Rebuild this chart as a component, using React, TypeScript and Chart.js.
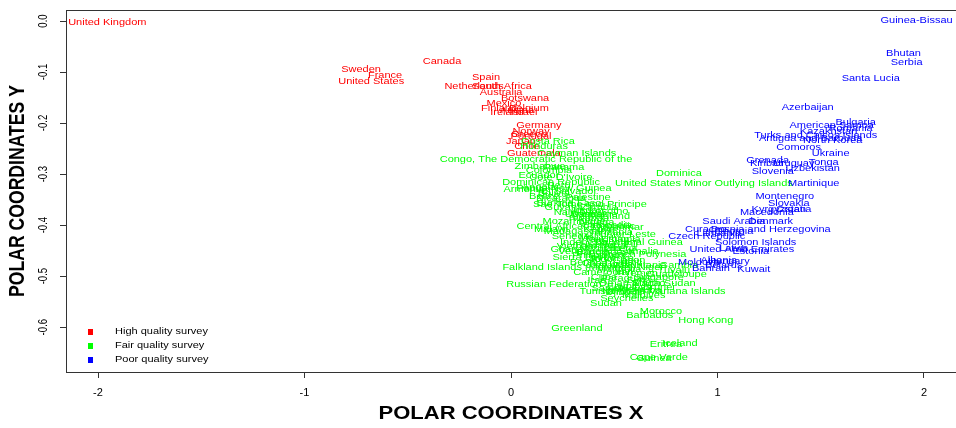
import React, { useEffect, useRef } from "react";
import { Chart, registerables } from "chart.js";
Chart.register(...registerables);

const highNames = ["United Kingdom","Sweden","France","United States","Canada","Spain","Netherlands","South Africa","Australia","Botswana","Mexico","Finland","Belgium","Ireland","Israel","Austria","Germany","Norway","Greece","Portugal","Japan","Chile","Guatemala"];
const highX = [-1.955,-0.726,-0.61,-0.677,-0.334,-0.121,-0.179,-0.044,-0.048,0.068,-0.034,-0.058,0.087,-0.019,0.063,0.029,0.135,0.097,0.087,0.097,0.048,0.077,0.111];
const highY = [-0.004,-0.096,-0.106,-0.118,-0.08,-0.11,-0.129,-0.129,-0.141,-0.153,-0.161,-0.171,-0.171,-0.18,-0.18,-0.175,-0.204,-0.216,-0.222,-0.227,-0.237,-0.247,-0.259];

const fairNames = ["Costa Rica","Honduras","Cayman Islands","Congo, The Democratic Republic of the","Zimbabwe","Panama","Colombia","Ecuador","Cote D'Ivoire","Dominican Republic","Peru","Angola","Armenia","Papua New Guinea","El Salvador","Bolivia","Belize","Nicaragua","Palestine","Sao Tome and Principe","Burkina Faso","Zambia","Guyana","Jordan","Namibia","Uganda","Lesotho","Swaziland","Suriname","Rwanda","Mozambique","Nigeria","Cambodia","Central African Republic","Myanmar","Malawi","Madagascar","Kenya","Tanzania","Timor-Leste","Senegal","Mali","Tajikistan","Ethiopia","Equatorial Guinea","Indonesia","Fiji","Nepal","Thailand","Vietnam","Vanuatu","Liberia","Venezuela","Somalia","Ghana","Bangladesh","French Polynesia","Philippines","Sierra Leone","Sri Lanka","Togo","Gabon","Benin","Haiti","Chad","India","Jamaica","Mauritania","Falkland Islands (Malvinas)","Niger","Mongolia","Gambia","Tuvalu","Cameroon","Iran","Yemen","Cuba","Paraguay","Singapore","Iraq","Syria","Guadeloupe","Russian Federation","Oman","South Sudan","Macao","Egypt","Libya","Brunei","Algeria","Aruba","Tunisia","Northern Mariana Islands","Samoa","Djibouti","Maldives","Seychelles","Sudan","Morocco","Barbados","Hong Kong","Greenland","Eritrea","Iceland","Cape Verde","Guinea","Dominica","United States Minor Outlying Islands"];
const fairX = [0.179,0.16,0.319,0.121,0.14,0.256,0.184,0.135,0.242,0.194,0.232,0.135,0.063,0.256,0.281,0.208,0.16,0.242,0.373,0.382,0.281,0.426,0.256,0.368,0.305,0.353,0.474,0.455,0.402,0.377,0.305,0.416,0.464,0.314,0.532,0.194,0.305,0.426,0.484,0.561,0.295,0.377,0.464,0.532,0.619,0.353,0.581,0.498,0.406,0.319,0.435,0.532,0.353,0.619,0.271,0.455,0.643,0.426,0.353,0.484,0.435,0.571,0.353,0.581,0.406,0.532,0.464,0.629,0.281,0.677,0.523,0.813,0.789,0.426,0.547,0.629,0.45,0.547,0.716,0.416,0.619,0.803,0.208,0.498,0.74,0.668,0.532,0.619,0.716,0.571,0.658,0.416,0.74,0.474,0.547,0.643,0.561,0.46,0.726,0.672,0.943,0.319,0.75,0.818,0.716,0.692,0.813,0.934];
const fairY = [-0.237,-0.247,-0.259,-0.271,-0.286,-0.288,-0.294,-0.302,-0.306,-0.316,-0.322,-0.326,-0.331,-0.329,-0.335,-0.339,-0.345,-0.349,-0.347,-0.359,-0.357,-0.365,-0.365,-0.371,-0.376,-0.38,-0.373,-0.384,-0.38,-0.388,-0.394,-0.396,-0.4,-0.402,-0.404,-0.408,-0.412,-0.408,-0.414,-0.418,-0.422,-0.425,-0.429,-0.429,-0.435,-0.435,-0.439,-0.441,-0.441,-0.443,-0.447,-0.447,-0.451,-0.451,-0.449,-0.453,-0.457,-0.459,-0.463,-0.465,-0.467,-0.469,-0.473,-0.473,-0.475,-0.478,-0.48,-0.48,-0.484,-0.484,-0.488,-0.48,-0.49,-0.494,-0.494,-0.496,-0.502,-0.504,-0.502,-0.508,-0.508,-0.498,-0.516,-0.514,-0.514,-0.514,-0.52,-0.522,-0.522,-0.527,-0.529,-0.531,-0.531,-0.524,-0.533,-0.539,-0.545,-0.553,-0.569,-0.578,-0.588,-0.602,-0.635,-0.633,-0.659,-0.661,-0.3,-0.318];

const poorNames = ["Guinea-Bissau","Bhutan","Serbia","Santa Lucia","Azerbaijan","American Samoa","Bulgaria","Romania","Kazakhstan","Turks and Caicos Islands","Antigua and Barbuda","North Korea","Comoros","Ukraine","Grenada","Kiribati","Uruguay","Tonga","Uzbekistan","Slovenia","Martinique","Montenegro","Slovakia","Kyrgyzstan","Croatia","Macedonia","Saudi Arabia","Denmark","Bosnia and Herzegovina","Curaçao","Georgia","Lithuania","Czech Republic","Solomon Islands","United Arab Emirates","Latvia","Estonia","Moldova","Albania","Hungary","Bahrain","Kuwait","Belarus"];
const poorX = [1.964,1.901,1.916,1.742,1.437,1.553,1.669,1.645,1.538,1.476,1.451,1.558,1.393,1.548,1.243,1.239,1.369,1.514,1.461,1.268,1.466,1.326,1.345,1.297,1.369,1.239,1.079,1.258,1.258,0.943,1.079,1.006,0.948,1.185,1.118,1.079,1.161,0.91,1.006,1.055,0.968,1.176,1.03];
const poorY = [0,-0.063,-0.082,-0.112,-0.169,-0.204,-0.2,-0.21,-0.216,-0.224,-0.231,-0.235,-0.249,-0.259,-0.273,-0.28,-0.28,-0.278,-0.29,-0.296,-0.318,-0.345,-0.357,-0.369,-0.369,-0.376,-0.394,-0.394,-0.408,-0.408,-0.412,-0.416,-0.422,-0.435,-0.449,-0.447,-0.451,-0.473,-0.469,-0.471,-0.486,-0.488,-0.48];

const seriesLabels = ["High quality survey", "Fair quality survey", "Poor quality survey"];
const seriesColors = ["#ff0000", "#00ff00", "#0000ff"];
const xTicks = [-2, -1, 0, 1, 2];
const yTicks = [0, -0.1, -0.2, -0.3, -0.4, -0.5, -0.6];
const xLimits = [-2.155, 2.155];
const yLimits = [-0.688, 0.0216];
const xTitle = "POLAR COORDINATES X";
const yTitle = "POLAR COORDINATES Y";

const FONT = '"Liberation Sans", Arial, sans-serif';
const AXIS_COLOR = "#333333";
const SQUASH = 0.8;

function pts(names: string[], xs: number[], ys: number[]) {
  return names.map((n, i) => ({ x: xs[i], y: ys[i], name: n }));
}

function flatText(ctx: any, text: string, x: number, y: number) {
  ctx.save();
  ctx.translate(x, y);
  ctx.scale(1, SQUASH);
  ctx.fillText(text, 0, 0);
  ctx.restore();
}

function upText(ctx: any, text: string, x: number, y: number) {
  ctx.save();
  ctx.translate(x, y);
  ctx.rotate(-Math.PI / 2);
  ctx.scale(SQUASH, 1);
  ctx.fillText(text, 0, 0);
  ctx.restore();
}

const pointLabelPlugin = {
  id: "pointLabels",
  afterDatasetsDraw(chart: any) {
    const { ctx, chartArea } = chart;
    ctx.save();
    ctx.beginPath();
    ctx.rect(chartArea.left, chartArea.top, chartArea.right - chartArea.left, chartArea.bottom - chartArea.top);
    ctx.clip();
    ctx.font = `11px ${FONT}`;
    ctx.textAlign = "center";
    ctx.textBaseline = "middle";
    chart.data.datasets.forEach((ds: any, i: number) => {
      const meta = chart.getDatasetMeta(i);
      ctx.fillStyle = ds.borderColor;
      meta.data.forEach((el: any, j: number) => {
        flatText(ctx, ds.data[j].name, el.x, el.y);
      });
    });
    ctx.restore();
  },
};

const decorPlugin = {
  id: "decor",
  afterDraw(chart: any) {
    const { ctx, chartArea } = chart;
    ctx.save();
    ctx.strokeStyle = AXIS_COLOR;
    ctx.lineWidth = 1;
    ctx.strokeRect(chartArea.left + 0.5, chartArea.top + 0.5, chartArea.right - chartArea.left, chartArea.bottom - chartArea.top);
    const ys = chart.scales.y;
    ctx.fillStyle = "#000";
    ctx.font = `12px ${FONT}`;
    ctx.textAlign = "center";
    ctx.textBaseline = "middle";
    ys.ticks.forEach((t: any) => {
      upText(ctx, Number(t.value).toFixed(1), chartArea.left - 22, ys.getPixelForValue(t.value));
    });
    ctx.font = `bold 22px ${FONT}`;
    flatText(ctx, xTitle, (chartArea.left + chartArea.right) / 2, 414);
    upText(ctx, yTitle, 18, (chartArea.top + chartArea.bottom) / 2);
    ctx.font = `11px ${FONT}`;
    ctx.textAlign = "left";
    chart.data.datasets.forEach((ds: any, i: number) => {
      const cy = 332 + i * 14;
      ctx.fillStyle = ds.borderColor;
      ctx.fillRect(88, cy - 3, 5, 6);
      ctx.fillStyle = "#000";
      flatText(ctx, ds.label, 115, cy);
    });
    ctx.restore();
  },
};

export default function App() {
  const ref = useRef<HTMLCanvasElement | null>(null);
  useEffect(() => {
    if (!ref.current) return;
    const datasets = [
      pts(highNames, highX, highY),
      pts(fairNames, fairX, fairY),
      pts(poorNames, poorX, poorY),
    ].map((d, i) => ({
      label: seriesLabels[i],
      data: d,
      borderColor: seriesColors[i],
      backgroundColor: seriesColors[i],
      pointRadius: 0,
      pointHoverRadius: 0,
    }));
    const chart = new Chart(ref.current, {
      type: "scatter",
      data: { datasets },
      options: {
        animation: false,
        responsive: true,
        maintainAspectRatio: false,
        layout: { padding: { top: 10, left: 0, right: 0, bottom: 0 } },
        plugins: { legend: { display: false }, tooltip: { enabled: false } },
        scales: {
          x: {
            type: "linear",
            min: xLimits[0],
            max: xLimits[1],
            afterBuildTicks: (s: any) => { s.ticks = xTicks.map((v) => ({ value: v })); },
            afterFit: (s: any) => { s.height = 56; },
            grid: { display: true, drawOnChartArea: false, drawTicks: true, tickLength: 6, color: AXIS_COLOR },
            border: { display: false },
            ticks: { color: "#000", font: { family: FONT, size: 11 }, padding: 8, maxRotation: 0, callback: (v: any) => String(v) },
          },
          y: {
            type: "linear",
            min: yLimits[0],
            max: yLimits[1],
            afterBuildTicks: (s: any) => { s.ticks = yTicks.map((v) => ({ value: v })); },
            afterFit: (s: any) => { s.width = 66; },
            grid: { display: true, drawOnChartArea: false, drawTicks: true, tickLength: 6, color: AXIS_COLOR },
            border: { display: false },
            ticks: { display: false },
          },
        },
      },
      plugins: [pointLabelPlugin, decorPlugin],
    });
    return () => chart.destroy();
  }, []);
  return (
    <div style={{ position: "fixed", left: 0, top: 0, width: 956, height: 428, background: "#fff" }}>
      <canvas ref={ref} />
    </div>
  );
}
